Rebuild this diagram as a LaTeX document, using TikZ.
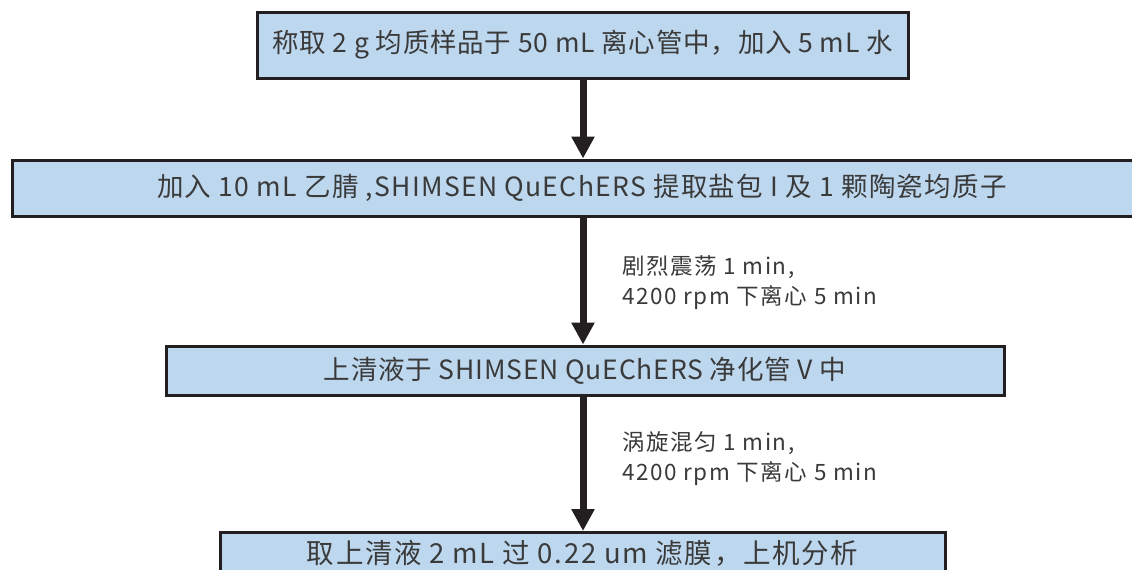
\documentclass[tikz,border=0pt]{standalone}
\usepackage{fontspec}
\setmainfont{Noto Sans CJK SC}
\usetikzlibrary{arrows.meta}
\definecolor{boxfill}{HTML}{BDD7EE}
\definecolor{boxline}{HTML}{231F20}
\definecolor{txt}{HTML}{3A3A3A}
\begin{document}
\begin{tikzpicture}[x=1pt,y=-1pt,
  stepbox/.style={draw=boxline, line width=3pt, fill=boxfill, inner sep=0pt, text=txt, font=\fontsize{26.5}{30}\selectfont\addfontfeature{LetterSpace=3}},
  wide/.style={font=\fontsize{26.5}{30}\selectfont\addfontfeature{LetterSpace=5}},
  wider/.style={font=\fontsize{27.5}{30}\selectfont\addfontfeature{LetterSpace=6}},
  flow/.style={draw=boxline, line width=7pt, -{Triangle[width=22pt,length=22pt]}},
  note/.style={anchor=west, align=left, text=txt, font=\fontsize{22.5}{30}\selectfont\addfontfeature{LetterSpace=7}, inner sep=0pt}]
\useasboundingbox (0,0) rectangle (1132,570);
\node[stepbox, minimum width=651pt, minimum height=66pt] (s1) at (582.5,45) {称取 2 g 均质样品于 50 mL 离心管中，加入 5 mL 水};
\node[stepbox, wide, minimum width=1140pt, minimum height=56pt] (s2) at (582,188) {加入 10 mL 乙腈 ,SHIMSEN QuEChERS 提取盐包 I 及 1 颗陶瓷均质子};
\node[stepbox, minimum width=838pt, minimum height=49pt] (s3) at (585,370.5) {上清液于 SHIMSEN QuEChERS 净化管 V 中};
\node[stepbox, wider, minimum width=725pt, minimum height=42pt, anchor=north] (s4) at (582.5,531) {取上清液 2 mL 过 0.22 um 滤膜，上机分析};
\coordinate (a) at (583,0);
\draw[flow] (s1.south -| a) -- (s2.north -| a);
\draw[flow] (s2.south -| a) -- (s3.north -| a);
\draw[flow] (s3.south -| a) -- (s4.north -| a);
\node[note] (n1) at (622,283) {剧烈震荡 1 min,\\4200 rpm 下离心 5 min};
\node[note] (n2) at (622,459) {涡旋混匀 1 min,\\4200 rpm 下离心 5 min};
\end{tikzpicture}
\end{document}
